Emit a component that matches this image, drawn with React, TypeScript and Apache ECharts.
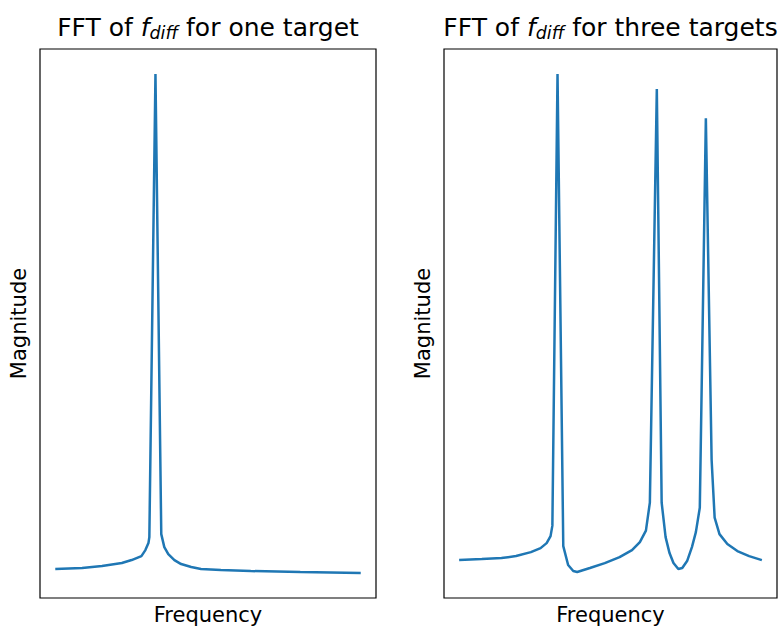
import React, { useEffect, useRef } from "react";
import * as echarts from "echarts";

// Left panel: FFT of f_diff for one target (arbitrary units, 0..100)
const oneFreq = [0, 8.8, 15.3, 21.8, 25.0, 28.2, 29.5, 30.5, 30.8, 32.8, 34.7, 35.7, 37.0, 39.0, 41.2, 44.5, 47.7, 54.2, 64.0, 80.2, 100];
const oneMag = [0.8, 1.0, 1.4, 2.0, 2.6, 3.4, 4.6, 6.0, 7.2, 100, 7.8, 5.2, 3.8, 2.6, 1.8, 1.2, 0.8, 0.6, 0.4, 0.2, 0];

// Right panel: FFT of f_diff for three targets
const threeFreq = [0, 7.5, 14.0, 18.8, 23.7, 26.9, 28.9, 30.2, 30.8, 32.5, 34.4, 36.0, 37.7, 39.0, 43.2, 48.1, 53.0, 57.1, 59.7, 61.7, 63.0, 65.3, 66.9, 68.2, 69.5, 70.8, 72.4, 73.7, 75.3, 76.9, 78.2, 79.5, 81.5, 83.4, 84.4, 86.0, 88.6, 91.9, 95.8, 100];
const threeMag = [2.6, 2.8, 3.0, 3.4, 4.2, 5.0, 6.0, 7.4, 9.5, 100, 5.4, 1.6, 0.4, 0.2, 1.0, 2.0, 3.2, 4.6, 6.2, 8.5, 14.1, 97.0, 14.1, 7.2, 4.0, 2.0, 0.8, 1.0, 2.4, 5.2, 8.2, 13.1, 91.1, 22.7, 11.1, 7.8, 5.8, 4.4, 3.4, 2.6];

const titles = ["one target", "three targets"];
const xLabel = "Frequency";
const yLabel = "Magnitude";

const FONT = "DejaVu Sans";
const LINE = "#1f77b4";

export default function App() {
  const ref = useRef<HTMLDivElement>(null);
  useEffect(() => {
    if (!ref.current) return;
    const chart = echarts.init(ref.current, null, { renderer: "svg" });
    const grids = [
      { left: 40, top: 49, width: 336, height: 552 },
      { left: 444, top: 49, width: 333, height: 552 },
    ];
    const centers = [208, 610.5];
    const richTitle = {
      i: { fontStyle: "italic", fontSize: 25, fontFamily: FONT, color: "#000", lineHeight: 30 },
      s: { fontStyle: "italic", fontSize: 17.5, fontFamily: FONT, color: "#000", lineHeight: 12, verticalAlign: "bottom" },
    };
    const option: any = {
      animation: false,
      backgroundColor: "#fff",
      title: titles.map((t, k) => ({
        text: `FFT of {i|f}{s|diff} for ${t}`,
        left: centers[k],
        textAlign: "center",
        top: 12,
        padding: 0,
        textStyle: {
          fontSize: 25,
          fontWeight: "normal",
          fontFamily: FONT,
          color: "#000",
          lineHeight: 30,
          rich: richTitle,
        },
      })),
      grid: grids.map((g) => ({
        ...g,
        show: true,
        borderColor: "#000",
        borderWidth: 1.2,
        backgroundColor: "transparent",
      })),
      xAxis: grids.map((_, k) => ({
        type: "value",
        gridIndex: k,
        min: -5,
        max: 105,
        name: xLabel,
        nameLocation: "middle",
        nameGap: 6,
        nameTextStyle: { fontSize: 21, fontFamily: FONT, color: "#000", verticalAlign: "top" },
        axisLine: { show: false },
        axisTick: { show: false },
        axisLabel: { show: false },
        splitLine: { show: false },
      })),
      yAxis: grids.map((_, k) => ({
        type: "value",
        gridIndex: k,
        min: -5,
        max: 105,
        name: yLabel,
        nameLocation: "middle",
        nameGap: 11,
        nameTextStyle: { fontSize: 21, fontFamily: FONT, color: "#000" },
        axisLine: { show: false },
        axisTick: { show: false },
        axisLabel: { show: false },
        splitLine: { show: false },
      })),
      series: [
        {
          type: "line",
          xAxisIndex: 0,
          yAxisIndex: 0,
          data: oneFreq.map((f, i) => [f, oneMag[i]]),
          showSymbol: false,
          lineStyle: { color: LINE, width: 2.5 },
          itemStyle: { color: LINE },
        },
        {
          type: "line",
          xAxisIndex: 1,
          yAxisIndex: 1,
          data: threeFreq.map((f, i) => [f, threeMag[i]]),
          showSymbol: false,
          lineStyle: { color: LINE, width: 2.5 },
          itemStyle: { color: LINE },
        },
      ],
    };
    chart.setOption(option);
    return () => chart.dispose();
  }, []);
  return (
    <div
      ref={ref}
      style={{ position: "fixed", left: 0, top: 0, width: 781, height: 630, background: "#fff" }}
    />
  );
}
